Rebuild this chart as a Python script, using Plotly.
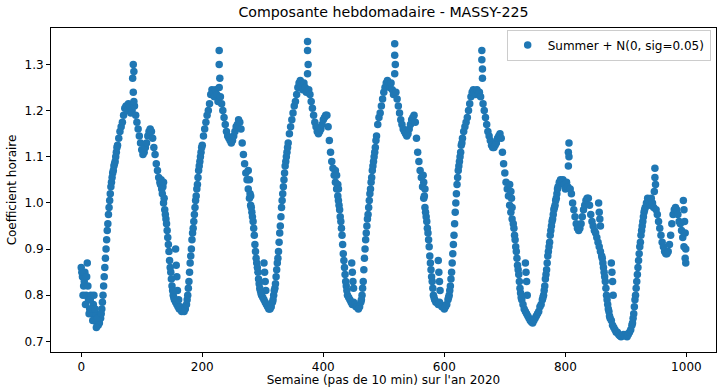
import plotly.graph_objects as go

# Step index (10-min steps) for the main series, sampled every 2 steps
steps = list(range(0, 1000, 2))

coef = [
    0.86, 0.84, 0.82, 0.85, 0.80, 0.87, 0.79, 0.77, 0.80, 0.76,
    0.78, 0.75, 0.76, 0.74, 0.735, 0.74, 0.75, 0.77, 0.80, 0.84,
    0.88, 0.92, 0.955, 0.99, 1.02, 1.045, 1.065, 1.08, 1.09, 1.11,
    1.125, 1.14, 1.155, 1.165, 1.175, 1.19, 1.205, 1.21, 1.20, 1.215,
    1.21, 1.195, 1.20, 1.30, 1.21, 1.19, 1.175, 1.16, 1.145, 1.13,
    1.115, 1.105, 1.11, 1.12, 1.13, 1.145, 1.155, 1.16, 1.155, 1.14,
    1.12, 1.105, 1.085, 1.07, 1.055, 1.045, 1.05, 1.02, 1.00, 0.985,
    0.965, 0.94, 0.91, 0.875, 0.85, 0.82, 0.80, 0.79, 0.785, 0.78,
    0.775, 0.77, 0.775, 0.765, 0.77, 0.765, 0.77, 0.78, 0.80, 0.83,
    0.87, 0.90, 0.935, 0.96, 0.99, 1.015, 1.04, 1.07, 1.09, 1.11,
    1.125, 1.145, 1.16, 1.175, 1.19, 1.20, 1.215, 1.235, 1.245, 1.24,
    1.23, 1.245, 1.235, 1.22, 1.33, 1.23, 1.215, 1.20, 1.185, 1.17,
    1.155, 1.145, 1.14, 1.135, 1.13, 1.135, 1.145, 1.155, 1.165, 1.17,
    1.18, 1.175, 1.16, 1.13, 1.105, 1.085, 1.065, 1.05, 1.03, 1.01,
    0.995, 0.98, 0.96, 0.93, 0.895, 0.87, 0.85, 0.825, 0.81, 0.80,
    0.795, 0.79, 0.785, 0.78, 0.775, 0.77, 0.77, 0.775, 0.785, 0.80,
    0.815, 0.84, 0.87, 0.895, 0.935, 0.97, 1.005, 1.035, 1.065, 1.09,
    1.11, 1.13, 1.15, 1.165, 1.18, 1.195, 1.21, 1.22, 1.235, 1.25,
    1.26, 1.265, 1.255, 1.245, 1.26, 1.25, 1.24, 1.35, 1.245, 1.235,
    1.22, 1.205, 1.19, 1.175, 1.165, 1.155, 1.15, 1.155, 1.16, 1.17,
    1.18, 1.185, 1.19, 1.19, 1.165, 1.135, 1.11, 1.09, 1.075, 1.06,
    1.045, 1.03, 1.015, 0.995, 0.97, 0.945, 0.91, 0.875, 0.845, 0.82,
    0.80, 0.795, 0.79, 0.785, 0.78, 0.785, 0.78, 0.775, 0.775, 0.77,
    0.775, 0.785, 0.80, 0.83, 0.88, 0.92, 0.95, 0.975, 1.005, 1.03,
    1.055, 1.08, 1.10, 1.12, 1.145, 1.17, 1.185, 1.195, 1.21, 1.225,
    1.24, 1.25, 1.26, 1.265, 1.255, 1.25, 1.26, 1.245, 1.235, 1.345,
    1.24, 1.225, 1.21, 1.195, 1.18, 1.17, 1.16, 1.155, 1.15, 1.145,
    1.15, 1.16, 1.17, 1.18, 1.185, 1.19, 1.175, 1.14, 1.11, 1.09,
    1.07, 1.055, 1.035, 1.01, 0.99, 0.97, 0.945, 0.92, 0.885, 0.855,
    0.83, 0.80, 0.79, 0.785, 0.785, 0.78, 0.785, 0.78, 0.775, 0.775,
    0.77, 0.775, 0.78, 0.79, 0.80, 0.82, 0.85, 0.89, 0.93, 0.98,
    1.02, 1.055, 1.08, 1.10, 1.125, 1.14, 1.155, 1.165, 1.175, 1.185,
    1.20, 1.215, 1.23, 1.24, 1.245, 1.24, 1.235, 1.245, 1.235, 1.24,
    1.23, 1.33, 1.215, 1.20, 1.185, 1.17, 1.155, 1.145, 1.135, 1.125,
    1.12, 1.12, 1.125, 1.13, 1.14, 1.145, 1.15, 1.14, 1.11, 1.085,
    1.065, 1.045, 1.03, 1.015, 0.995, 0.98, 0.965, 0.955, 0.93, 0.905,
    0.88, 0.855, 0.83, 0.805, 0.79, 0.78, 0.77, 0.765, 0.76, 0.755,
    0.75, 0.745, 0.742, 0.74, 0.745, 0.75, 0.755, 0.76, 0.765, 0.775,
    0.78, 0.79, 0.80, 0.82, 0.845, 0.87, 0.895, 0.915, 0.94, 0.96,
    0.975, 0.99, 1.005, 1.02, 1.035, 1.045, 1.05, 1.045, 1.05, 1.04,
    1.03, 1.045, 1.035, 1.13, 1.03, 1.02, 1.00, 0.985, 0.97, 0.955,
    0.945, 0.94, 0.945, 0.955, 0.97, 0.985, 0.995, 1.005, 1.01, 1.01,
    0.995, 0.975, 0.96, 0.95, 0.94, 0.935, 0.925, 0.915, 0.905, 0.895,
    0.885, 0.87, 0.85, 0.83, 0.80, 0.78, 0.765, 0.75, 0.745, 0.735,
    0.73, 0.725, 0.72, 0.72, 0.715, 0.712, 0.71, 0.712, 0.715, 0.712,
    0.715, 0.71, 0.715, 0.72, 0.725, 0.735, 0.75, 0.775, 0.80, 0.83,
    0.86, 0.89, 0.915, 0.94, 0.96, 0.98, 0.99, 1.00, 1.01, 1.005,
    0.995, 1.01, 1.00, 0.99, 1.075, 0.985, 0.975, 0.96, 0.945, 0.93,
    0.915, 0.905, 0.895, 0.89, 0.89, 0.895, 0.91, 0.93, 0.955, 0.975,
    0.985, 0.99, 0.985, 0.975, 0.96, 0.955, 0.94, 0.925, 0.905, 0.88,
]

# Additional noisy samples (odd steps)
extra_steps = [
    1, 3, 5, 7, 9, 11, 13, 15, 17, 19, 21, 23, 25, 27,
    85, 87, 86, 87, 131, 133, 135, 137, 136, 156, 157, 158, 159, 161,
    228, 229, 228, 276, 278, 279, 280, 302, 303, 304, 305,
    374, 375, 374, 420, 422, 424, 425, 447, 448, 449, 450,
    518, 519, 518, 565, 566, 568, 567, 590, 591, 592, 593,
    662, 663, 663, 708, 710, 711, 712, 734, 735, 736, 737,
    805, 806, 805, 855, 856, 857, 858, 876, 877, 878, 879,
    948, 949, 947, 995, 996, 997, 998, 999, 999,
]
extra_coef = [
    0.85, 0.80, 0.83, 0.78, 0.84, 0.82, 0.76, 0.79, 0.77, 0.745, 0.80, 0.77, 0.73, 0.75,
    1.27, 1.285, 1.24, 1.22, 1.04, 1.03, 1.035, 1.01, 1.045, 0.90, 0.865, 0.84, 0.81, 0.79,
    1.30, 1.27, 1.25, 1.07, 1.05, 1.02, 1.015, 0.87, 0.85, 0.83, 0.81,
    1.33, 1.30, 1.28, 1.07, 1.06, 1.04, 1.03, 0.87, 0.85, 0.83, 0.815,
    1.32, 1.30, 1.28, 1.06, 1.045, 1.03, 1.015, 0.875, 0.85, 0.83, 0.81,
    1.31, 1.29, 1.27, 1.04, 1.025, 1.01, 0.99, 0.87, 0.85, 0.83, 0.80,
    1.11, 1.10, 1.08, 1.00, 0.98, 0.965, 0.95, 0.87, 0.85, 0.83, 0.80,
    1.055, 1.04, 1.025, 1.005, 0.985, 0.96, 0.935, 0.87, 0.90,
]

# Odd-step samples on the steep rises and falls
steep_steps = [
    33, 35, 37, 39, 41, 43, 45, 47, 49, 51, 53, 55, 57, 59,
    139, 141, 143, 145, 147, 149, 151, 153,
    175, 177, 179, 181, 183, 185, 187, 189, 191, 193, 195, 197, 199,
    281, 283, 285, 287, 289, 291, 293, 295, 297,
    317, 319, 321, 323, 325, 327, 329, 331, 333, 335, 337, 339, 341,
    425, 427, 429, 431, 433, 435, 437, 439,
    463, 465, 467, 469, 471, 473, 475, 477, 479, 481, 483, 485, 487,
    569, 571, 573, 575, 577, 579, 581, 583,
    607, 609, 611, 613, 615, 617, 619, 621, 623, 625, 627, 629,
    715, 717, 719, 721, 723, 725, 727,
    763, 765, 767, 769, 771, 773, 775, 777, 779, 781, 783, 785, 787,
    861, 863, 865, 867, 869, 871, 873,
    911, 913, 915, 917, 919, 921, 923, 925, 927, 929, 931,
]
steep_coef = [
    0.76, 0.785, 0.82, 0.86, 0.90, 0.94, 0.975, 1.005, 1.035, 1.055, 1.07, 1.085, 1.10, 1.12,
    0.975, 0.955, 0.925, 0.895, 0.86, 0.835, 0.81, 0.795,
    0.79, 0.815, 0.85, 0.885, 0.92, 0.945, 0.975, 1.005, 1.03, 1.055, 1.08, 1.10, 1.12,
    0.99, 0.97, 0.945, 0.91, 0.88, 0.86, 0.835, 0.815, 0.805,
    0.79, 0.81, 0.825, 0.855, 0.88, 0.915, 0.95, 0.99, 1.02, 1.05, 1.08, 1.10, 1.12,
    1.005, 0.985, 0.96, 0.93, 0.89, 0.86, 0.83, 0.81,
    0.79, 0.815, 0.855, 0.90, 0.935, 0.965, 0.99, 1.02, 1.045, 1.07, 1.09, 1.11, 1.135,
    0.98, 0.96, 0.935, 0.905, 0.87, 0.84, 0.815, 0.795,
    0.795, 0.81, 0.835, 0.87, 0.91, 0.955, 1.00, 1.04, 1.07, 1.09, 1.11, 1.13,
    0.945, 0.92, 0.895, 0.865, 0.845, 0.815, 0.795,
    0.795, 0.81, 0.835, 0.855, 0.885, 0.905, 0.93, 0.95, 0.965, 0.985, 0.995, 1.01, 1.03,
    0.88, 0.86, 0.84, 0.815, 0.79, 0.77, 0.755,
    0.74, 0.76, 0.79, 0.815, 0.845, 0.875, 0.905, 0.93, 0.95, 0.97, 0.985,
]

x_all = steps + extra_steps + steep_steps
y_all = coef + extra_coef + steep_coef

x_ticks = [0, 200, 400, 600, 800, 1000]
y_ticks = [0.7, 0.8, 0.9, 1.0, 1.1, 1.2, 1.3]

font_family = "DejaVu Sans, Arial, sans-serif"
fs = 12

fig = go.Figure()
fig.add_trace(go.Scatter(
    x=x_all, y=y_all, mode="markers",
    name="Summer + N(0, sig=0.05)",
    marker=dict(color="#1f77b4", size=7.5, line=dict(width=0)),
))

axis_common = dict(
    showline=True, linecolor="black", linewidth=1, mirror=True,
    ticks="outside", ticklen=4, tickwidth=1, tickcolor="black",
    showgrid=False, zeroline=False,
    tickfont=dict(family=font_family, size=fs, color="black"),
)

fig.update_layout(
    width=717, height=387,
    margin=dict(l=51, r=1, t=28, b=35),
    paper_bgcolor="white", plot_bgcolor="white",
    font=dict(family=font_family, size=fs, color="black"),
    title=dict(text="Composante hebdomadaire - MASSY-225", x=0.5, xref="paper",
               xanchor="center", y=0.968, yanchor="middle",
               font=dict(family=font_family, size=14.2, color="black")),
    xaxis=dict(range=[-49.95, 1048.95], tickvals=x_ticks,
               title=dict(text="Semaine (pas de 10 min) sur l'an 2020", standoff=3,
                          font=dict(family=font_family, size=fs, color="black")),
               **axis_common),
    yaxis=dict(range=[0.677, 1.379], tickvals=y_ticks, tickformat=".1f",
               title=dict(text="Coefficient horaire", standoff=5,
                          font=dict(family=font_family, size=fs, color="black")),
               **axis_common),
    showlegend=True,
    legend=dict(x=0.992, y=0.995, xanchor="right", yanchor="top",
                bgcolor="rgba(255,255,255,0.8)", bordercolor="#cccccc", borderwidth=1,
                font=dict(family=font_family, size=fs, color="black")),
)

fig.write_html("out.html")
